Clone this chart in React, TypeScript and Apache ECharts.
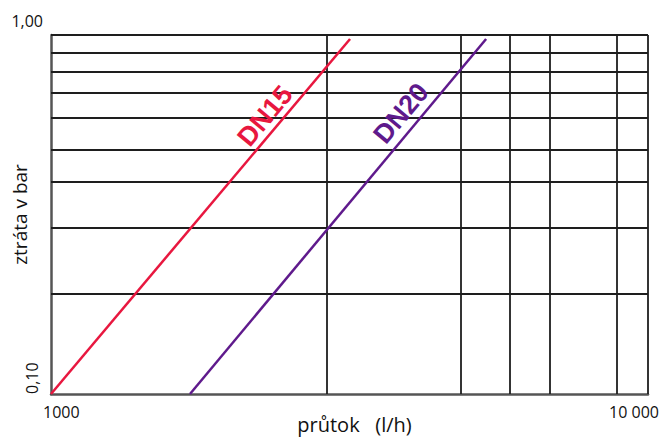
import React, { useEffect, useRef } from "react";
import * as echarts from "echarts";

// axis ranges
const xMin = 1000;
const xMax = 11340;
const yMin = 0.1;
const yMax = 1.0;

// grid line positions
const xGridLines = [3070, 5300, 6470, 7590, 10000, 11340];
const yGridLines = [0.19, 0.288, 0.39, 0.484, 0.588, 0.687, 0.79, 0.893, 1.0];

// tick labels
const xTickLabels: Record<number, string> = { 1000: "1000", 10000: "10 000" };
const yTopLabel = "1,00";
const yBottomLabel = "0,10";

// series
const seriesNames = ["DN15", "DN20"];
const dn15Flow = [1000, 3375];
const dn15Loss = [0.1, 0.975];
const dn20Flow = [1760, 5870];
const dn20Loss = [0.1, 0.975];

// label anchors (data coordinates)
const labelFlow = [2388, 4153];
const labelLoss = [0.595, 0.605];

const RED = "#e8173f";
const PURPLE = "#5f1a8c";
const FONT = "Open Sans";

export default function App() {
  const ref = useRef<HTMLDivElement>(null);
  useEffect(() => {
    if (!ref.current) return;
    const chart = echarts.init(ref.current, undefined, { renderer: "svg" });
    const pair = (xs: number[], ys: number[]) => xs.map((x, i) => [x, ys[i]]);
    const curve = (name: string, data: number[][], color: string, lf: number, ll: number) => ({
      type: "line",
      name,
      data,
      symbol: "none",
      z: 5,
      lineStyle: { color, width: 2.5 },
      markPoint: {
        symbol: "circle",
        symbolSize: 0,
        silent: true,
        data: [{ coord: [lf, ll], value: name }],
        label: {
          show: true,
          position: "inside",
          formatter: name,
          rotate: 50,
          fontSize: 27,
          fontWeight: "bold",
          fontFamily: "Liberation Sans",
          color,
        },
      },
    });
    chart.setOption({
      animation: false,
      grid: { left: 51, right: 16, top: 35, bottom: 43, containLabel: false, outerBoundsMode: "none" },
      xAxis: {
        type: "log",
        logBase: 10,
        min: xMin,
        max: xMax,
        name: "průtok   (l/h)",
        nameLocation: "middle",
        nameGap: 20,
        nameMoveOverlap: false,
        nameTextStyle: { fontSize: 20, color: "#111", fontFamily: FONT, padding: [0, 0, 0, 10] },
        axisLine: { show: true, lineStyle: { color: "#555", width: 2.5 } },
        axisTick: { show: false },
        splitLine: { show: false },
        axisLabel: {
          show: true,
          margin: 10,
          align: "left",
          padding: [0, 0, 0, -8],
          fontSize: 16,
          color: "#111",
          fontFamily: FONT,
          formatter: (v: number) => {
            const k = Math.round(v);
            return xTickLabels[k] ?? "";
          },
        },
      },
      yAxis: [
        {
          type: "log",
          logBase: 10,
          min: yMin,
          max: yMax,
          name: "ztráta v bar",
          nameLocation: "middle",
          nameGap: 22,
          nameMoveOverlap: false,
          nameTextStyle: { fontSize: 19, color: "#111", fontFamily: FONT },
          axisLine: { show: true, lineStyle: { color: "#555", width: 2.5 } },
          axisTick: { show: false },
          splitLine: { show: false },
          axisLabel: {
            margin: 8,
            verticalAlign: "bottom",
            padding: [0, 0, 6, 0],
            fontSize: 16,
            color: "#111",
            fontFamily: FONT,
            formatter: (v: number) => (Math.abs(v - 1) < 1e-6 ? yTopLabel : ""),
          },
        },
        {
          type: "log",
          logBase: 10,
          min: yMin,
          max: yMax,
          position: "left",
          axisLine: { show: false },
          axisTick: { show: false },
          splitLine: { show: false },
          axisLabel: {
            margin: 11,
            rotate: 90,
            align: "left",
            verticalAlign: "bottom",
            fontSize: 16,
            color: "#111",
            fontFamily: FONT,
            formatter: (v: number) => (Math.abs(v - 0.1) < 1e-6 ? yBottomLabel : ""),
          },
        },
      ],
      series: [
        {
          type: "line",
          name: "grid",
          data: [[xMin, yMin]],
          symbol: "none",
          lineStyle: { width: 0 },
          z: 1,
          markLine: {
            silent: true,
            symbol: ["none", "none"],
            label: { show: false },
            lineStyle: { color: "#1e1e1e", width: 1.8, type: "solid" },
            data: [
              ...xGridLines.map((v) => ({ xAxis: v })),
              ...yGridLines.map((v) => ({ yAxis: v })),
            ],
          },
        },
        curve(seriesNames[0], pair(dn15Flow, dn15Loss), RED, labelFlow[0], labelLoss[0]),
        curve(seriesNames[1], pair(dn20Flow, dn20Loss), PURPLE, labelFlow[1], labelLoss[1]),
      ],
    });
    return () => chart.dispose();
  }, []);
  return (
    <div
      ref={ref}
      style={{ position: "absolute", left: 0, top: 0, width: 664, height: 437, background: "#fff" }}
    />
  );
}
